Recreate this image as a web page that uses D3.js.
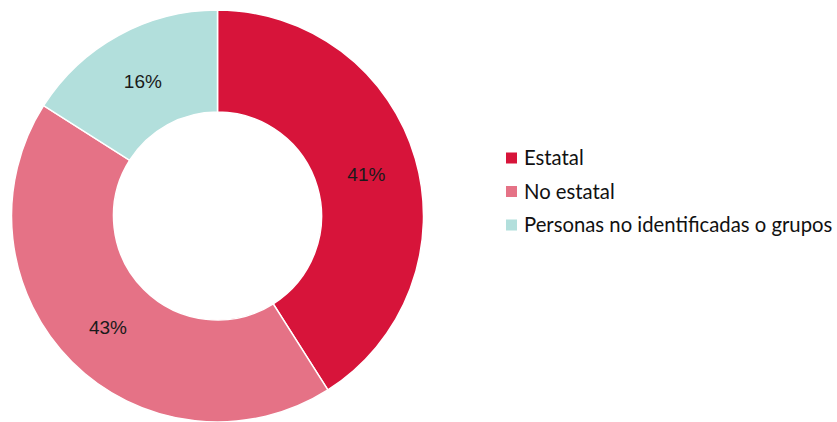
<!DOCTYPE html>
<html>
<head>
<meta charset="utf-8">
<script src="https://cdn.jsdelivr.net/npm/d3@7"></script>
<style>
  body { margin: 0; background: #fff; }
</style>
</head>
<body>
<script>
// data
const categories = ['Estatal', 'No estatal', 'Personas no identificadas o grupos'];
const values = [41, 43, 16];
const colors = ['#D7143A', '#E57286', '#B2DFDC'];

const width = 837;
const height = 422;
const cx = 217.5;
const cy = 216;
const outer = 206;
const inner = 104;

const svg = d3.select('body')
    .append('svg')
    .attr('width', width)
    .attr('height', height);

const g = svg.append('g')
    .attr('transform', `translate(${cx},${cy})`);

const pie = d3.pie().sort(null).value(d => d);
const arcs = pie(values);

const arc = d3.arc()
    .innerRadius(inner)
    .outerRadius(outer);

// slices
g.selectAll('path')
    .data(arcs)
    .enter().append('path')
    .attr('d', arc)
    .attr('fill', (d, i) => colors[i])
    .attr('stroke', '#fff')
    .attr('stroke-width', 1.5);

// percentage labels at slice centroids
g.selectAll('text')
    .data(arcs)
    .enter().append('text')
    .attr('transform', d => `translate(${arc.centroid(d)})`)
    .attr('dy', '0.42em')
    .style('text-anchor', 'middle')
    .style('font-family', '"Liberation Sans", Arial, sans-serif')
    .style('font-size', '19px')
    .style('fill', '#1a1a1a')
    .text(d => `${d.data}%`);

// legend
const legend = svg.append('g')
    .attr('transform', 'translate(506,158)');

const item = legend.selectAll('g')
    .data(categories)
    .enter().append('g')
    .attr('transform', (d, i) => `translate(0,${i * 33.5})`);

item.append('rect')
    .attr('x', 0)
    .attr('y', -5.5)
    .attr('width', 11)
    .attr('height', 11)
    .attr('fill', (d, i) => colors[i]);

item.append('text')
    .attr('x', 18)
    .attr('dy', '0.35em')
    .style('font-family', 'Lato, sans-serif')
    .style('font-size', '20.3px')
    .style('fill', '#111')
    .text(d => d);
</script>
</body>
</html>
